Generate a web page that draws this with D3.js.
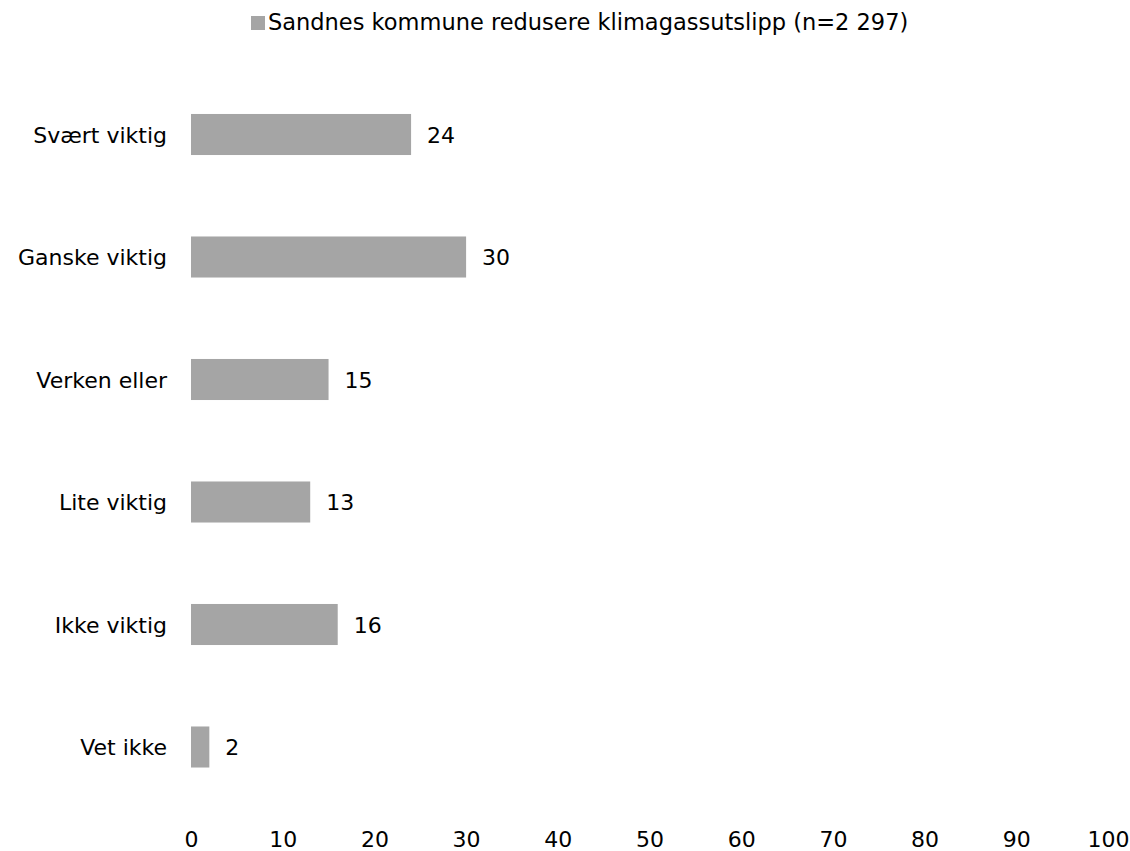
<!DOCTYPE html>
<html>
<head>
<meta charset="utf-8">
<script src="https://cdn.jsdelivr.net/npm/d3@7"></script>
<style>
  body { margin: 0; background: #fff; }
  text { font-family: "DejaVu Sans", sans-serif; fill: #000; }
</style>
</head>
<body>
<script>

var width = 1130;
var height = 851;

// data
var categories = ["Svært viktig", "Ganske viktig", "Verken eller", "Lite viktig", "Ikke viktig", "Vet ikke"];
var values = [24, 30, 15, 13, 16, 2];
var seriesName = "Sandnes kommune redusere klimagassutslipp (n=2 297)";
var xTicks = [0, 10, 20, 30, 40, 50, 60, 70, 80, 90, 100];

var barColor = "#a5a5a5";
var fontSize = 22;

var svg = d3.select("body")
    .append("svg")
    .attr("width", width)
    .attr("height", height);

var x = d3.scaleLinear().domain([0, 100]).range([191, 1108]);

var y = d3.scaleBand()
    .domain(categories)
    .range([73.25, 808.25])
    .paddingInner(0.665)
    .paddingOuter(0.3325);

// legend
var legend = svg.append("g");
legend.append("rect")
    .attr("x", 251).attr("y", 16)
    .attr("width", 14).attr("height", 14)
    .attr("fill", barColor);
legend.append("text")
    .attr("x", 268).attr("y", 30)
    .style("font-size", "22.5px")
    .text(seriesName);

var data = categories.map(function(c, i) { return {name: c, value: values[i]}; });

// bars
svg.append("g").selectAll("rect")
    .data(data)
    .enter().append("rect")
    .attr("x", x(0))
    .attr("y", function(d) { return y(d.name); })
    .attr("width", function(d) { return x(d.value) - x(0); })
    .attr("height", y.bandwidth())
    .attr("fill", barColor);

// value labels
svg.append("g").selectAll("text")
    .data(data)
    .enter().append("text")
    .attr("x", function(d) { return x(d.value) + 16; })
    .attr("y", function(d) { return y(d.name) + y.bandwidth() / 2 + 8; })
    .style("font-size", fontSize + "px")
    .text(function(d) { return d.value; });

// category axis
var yAxis = svg.append("g")
    .attr("transform", "translate(" + (x(0) - 24) + ",0)")
    .call(d3.axisLeft(y).tickSize(0).tickPadding(0));
yAxis.select(".domain").remove();
yAxis.selectAll("text")
    .attr("dy", null)
    .attr("y", 8)
    .style("font-size", fontSize + "px")
    .style("font-family", "DejaVu Sans, sans-serif")
    .attr("fill", "#000");

// value axis
var xAxis = svg.append("g")
    .attr("transform", "translate(0,847)")
    .call(d3.axisBottom(x).tickValues(xTicks).tickSize(0).tickPadding(0));
xAxis.select(".domain").remove();
xAxis.selectAll("text")
    .attr("dy", null)
    .attr("y", 0)
    .style("font-size", fontSize + "px")
    .style("font-family", "DejaVu Sans, sans-serif")
    .attr("fill", "#000");

</script>
</body>
</html>
